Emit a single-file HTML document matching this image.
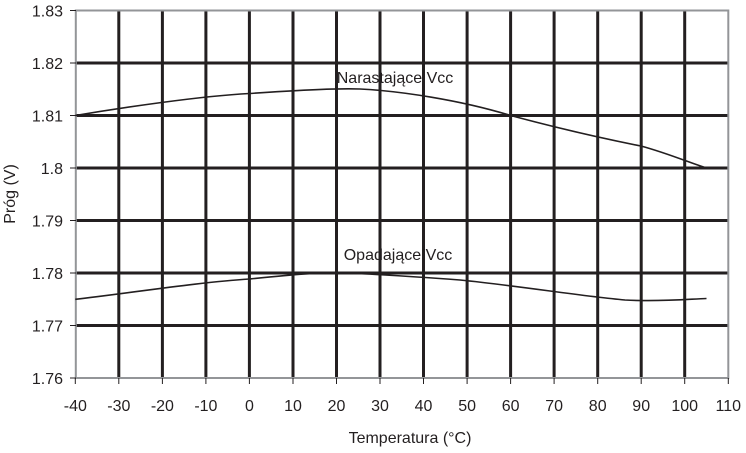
<!DOCTYPE html><html><head><style>body{margin:0;background:#fff}</style></head><body>
<svg width="746" height="448" xmlns="http://www.w3.org/2000/svg" font-family="Liberation Sans, sans-serif" font-size="16" fill="#231f20">
<g stroke="#231f20" stroke-width="3">
<line x1="118.8" y1="10" x2="118.8" y2="378"/><line x1="162.4" y1="10" x2="162.4" y2="378"/><line x1="205.9" y1="10" x2="205.9" y2="378"/><line x1="249.4" y1="10" x2="249.4" y2="378"/><line x1="293" y1="10" x2="293" y2="378"/><line x1="336.5" y1="10" x2="336.5" y2="378"/><line x1="380" y1="10" x2="380" y2="378"/><line x1="423.5" y1="10" x2="423.5" y2="378"/><line x1="467.1" y1="10" x2="467.1" y2="378"/><line x1="510.6" y1="10" x2="510.6" y2="378"/><line x1="554.1" y1="10" x2="554.1" y2="378"/><line x1="597.7" y1="10" x2="597.7" y2="378"/><line x1="641.2" y1="10" x2="641.2" y2="378"/><line x1="684.7" y1="10" x2="684.7" y2="378"/>
<line x1="76" y1="63" x2="728" y2="63"/><line x1="76" y1="115.5" x2="728" y2="115.5"/><line x1="76" y1="168" x2="728" y2="168"/><line x1="76" y1="220.5" x2="728" y2="220.5"/><line x1="76" y1="273" x2="728" y2="273"/><line x1="76" y1="325.5" x2="728" y2="325.5"/>
</g>
<rect x="75.8" y="10.5" width="652.5" height="367.5" fill="none" stroke="#939598" stroke-width="2"/>
<g stroke="#231f20" stroke-width="1">
<line x1="70" y1="10.5" x2="76" y2="10.5"/><line x1="70" y1="63" x2="76" y2="63"/><line x1="70" y1="115.5" x2="76" y2="115.5"/><line x1="70" y1="168" x2="76" y2="168"/><line x1="70" y1="220.5" x2="76" y2="220.5"/><line x1="70" y1="273" x2="76" y2="273"/><line x1="70" y1="325.5" x2="76" y2="325.5"/><line x1="70" y1="378" x2="76" y2="378"/>
<line x1="75.3" y1="378" x2="75.3" y2="384"/><line x1="118.8" y1="378" x2="118.8" y2="384"/><line x1="162.4" y1="378" x2="162.4" y2="384"/><line x1="205.9" y1="378" x2="205.9" y2="384"/><line x1="249.4" y1="378" x2="249.4" y2="384"/><line x1="293" y1="378" x2="293" y2="384"/><line x1="336.5" y1="378" x2="336.5" y2="384"/><line x1="380" y1="378" x2="380" y2="384"/><line x1="423.5" y1="378" x2="423.5" y2="384"/><line x1="467.1" y1="378" x2="467.1" y2="384"/><line x1="510.6" y1="378" x2="510.6" y2="384"/><line x1="554.1" y1="378" x2="554.1" y2="384"/><line x1="597.7" y1="378" x2="597.7" y2="384"/><line x1="641.2" y1="378" x2="641.2" y2="384"/><line x1="684.7" y1="378" x2="684.7" y2="384"/><line x1="728.3" y1="378" x2="728.3" y2="384"/>
</g>
<g fill="none" stroke="#231f20" stroke-width="1.6">
<path d="M75.3,115.5 C120,108 200,96 249.4,93.5 C300,90 336,88 360,89 C400,91 460,100 510.6,115.5 C550,126 590,136 641,146 C670,154 690,163 706.5,168"/>
<path d="M75.3,299.3 C130,293 200,282 249.4,279 C290,275 320,272 340,273 C380,274 420,277 460,280 C520,286 580,296 625,300 C660,302 690,299 706.5,298.5"/>
</g>
<g text-anchor="end">
<text x="63" y="16.5">1.83</text><text x="63" y="69">1.82</text><text x="63" y="121.5">1.81</text><text x="63" y="174">1.8</text><text x="63" y="226.5">1.79</text><text x="63" y="279">1.78</text><text x="63" y="331.5">1.77</text><text x="63" y="384">1.76</text>
</g>
<g text-anchor="middle">
<text x="75.3" y="411">-40</text><text x="118.8" y="411">-30</text><text x="162.4" y="411">-20</text><text x="205.9" y="411">-10</text><text x="249.4" y="411">0</text><text x="293" y="411">10</text><text x="336.5" y="411">20</text><text x="380" y="411">30</text><text x="423.5" y="411">40</text><text x="467.1" y="411">50</text><text x="510.6" y="411">60</text><text x="554.1" y="411">70</text><text x="597.7" y="411">80</text><text x="641.2" y="411">90</text><text x="684.7" y="411">100</text><text x="728.3" y="411">110</text>
<text x="410" y="443">Temperatura (°C)</text>
<text x="395" y="83">Narastające Vcc</text>
<text x="398" y="260">Opadające Vcc</text>
<text transform="translate(15,194) rotate(-90)">Próg (V)</text>
</g>
</svg>
</body></html>
